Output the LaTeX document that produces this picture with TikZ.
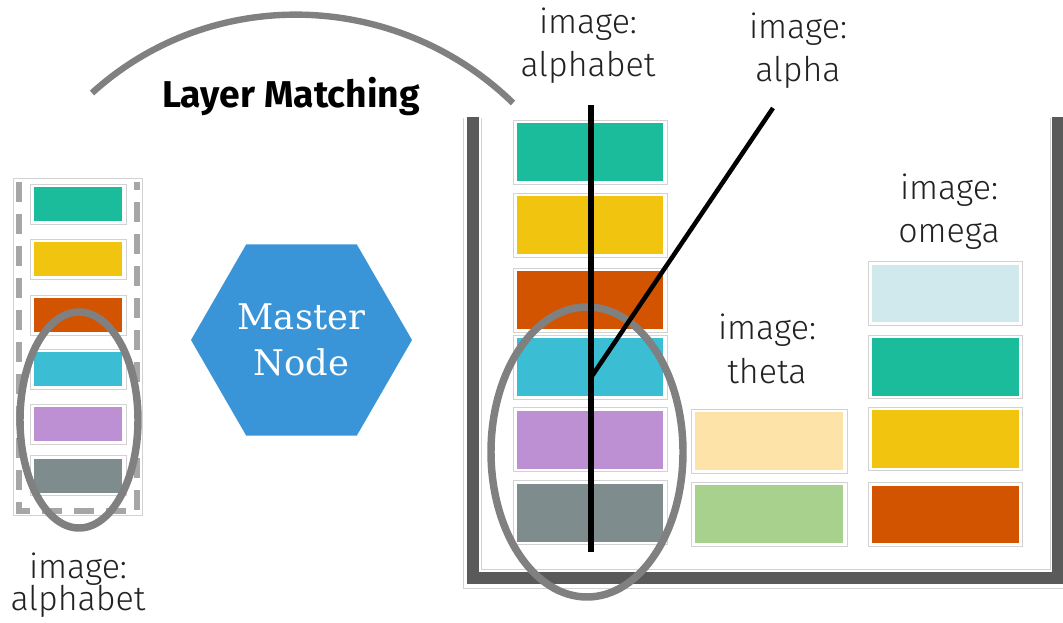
\documentclass[tikz,border=0pt]{standalone}
\usepackage{fontspec}
\setmainfont{Fira Sans}
\newfontfamily\lightsans{Fira Sans Light}
\newfontfamily\slab{DejaVu Serif}
\usetikzlibrary{shapes.geometric}

\definecolor{cteal}{HTML}{1ABC9C}
\definecolor{cyellow}{HTML}{F1C40F}
\definecolor{corange}{HTML}{D35400}
\definecolor{ccyan}{HTML}{3BBDD3}
\definecolor{cpurple}{HTML}{BD8FD3}
\definecolor{cslate}{HTML}{7F8C8D}
\definecolor{ccream}{HTML}{FDE3A7}
\definecolor{cgreen}{HTML}{A9D18E}
\definecolor{cice}{HTML}{D0E9ED}
\definecolor{hexblue}{HTML}{3A95D8}
\definecolor{ringgray}{HTML}{808080}
\definecolor{dashgray}{HTML}{A6A6A6}
\definecolor{wallgray}{HTML}{5A5A5A}
\definecolor{edgegray}{HTML}{D2D2D2}
\definecolor{inkgray}{HTML}{222222}

% let label lines sit closer than their natural height allows
\newcommand\tightlines{\lineskiplimit=-100pt\relax}

% a coloured layer card with a thin light frame around it
\newcommand\card[5]{%
  \node[cardedge, minimum width=#3+6pt, minimum height=#4+4.5pt] at #2 {};
  \node[cardfill, fill=#5, minimum width=#3, minimum height=#4] (#1) at #2 {};
}

\begin{document}
\begin{tikzpicture}[x=0.75pt, y=-0.75pt,
  cardedge/.style={draw=edgegray, line width=0.6pt, inner sep=0pt, outer sep=0pt},
  cardfill/.style={inner sep=0pt, outer sep=0pt},
  lbl/.style={align=center, text=inkgray,
    font={\lightsans\fontsize{25.5}{32.5}\selectfont\tightlines}},
  lbltight/.style={lbl, font={\lightsans\fontsize{25.5}{24}\selectfont\tightlines}},
  ring/.style={draw=ringgray, line width=5.6pt},
  pointer/.style={draw=black, line width=4.2pt},
]
\useasboundingbox (0,0) rectangle (1063,623);

% ---------- arc and title ----------
\draw[draw=ringgray, line width=4.8pt]
  (92,93) .. controls (212,-16) and (397,-10) .. (513,103);
\node[font={\bfseries\fontsize{28}{32}\selectfont}] (title) at (291,97) {Layer Matching};

% ---------- local node (left) ----------
\draw[edgegray, line width=0.6pt] (13,178) rectangle (142,515);
\draw[dashgray, line width=4.8pt, dash pattern=on 15pt off 9pt]
  (19,182) -- (19,511) -- (137,511) -- (137,182);
\card{l1}{(78,204.5)}{66pt}{25.5pt}{cteal}
\card{l2}{(78,259.5)}{66pt}{25.5pt}{cyellow}
\card{l3}{(78,315)}{66pt}{25.5pt}{corange}
\card{l4}{(78,369)}{66pt}{25.5pt}{ccyan}
\card{l5}{(78,424)}{66pt}{25.5pt}{cpurple}
\card{l6}{(78,475.5)}{66pt}{25.5pt}{cslate}
\draw[ring] (79,420) ellipse [x radius=59, y radius=108];
\node[lbltight] (leftlbl) at (78,585) {image:\\alphabet};

% ---------- master node ----------
\node[regular polygon, regular polygon sides=6, minimum size=165.75pt,
      fill=hexblue, inner sep=0pt, text=white, align=center,
      font={\slab\fontsize{26.5}{34.5}\selectfont}] (master) at (301.5,340) {Master\\Node};

% ---------- registry (right) ----------
\draw[edgegray, line width=0.6pt] (463,118) -- (463,588) -- (1063,588);
\draw[edgegray, line width=0.6pt] (481,118) -- (481,569) -- (1050,569) -- (1050,118);
\draw[wallgray, line width=9pt] (472.5,117) -- (472.5,577.5) -- (1057.5,577.5) -- (1057.5,117);

% image: alphabet
\card{a1}{(590,152.5)}{109.5pt}{43.5pt}{cteal}
\card{a2}{(590,225.5)}{109.5pt}{43.5pt}{cyellow}
\card{a3}{(590,300.5)}{109.5pt}{43.5pt}{corange}
\card{a4}{(590,367)}{109.5pt}{43.5pt}{ccyan}
\card{a5}{(590,439.5)}{109.5pt}{43.5pt}{cpurple}
\card{a6}{(590,512.5)}{109.5pt}{43.5pt}{cslate}

% image: theta
\card{t1}{(769,441)}{111pt}{43.5pt}{ccream}
\card{t2}{(769,514)}{111pt}{43.5pt}{cgreen}

% image: omega
\card{o1}{(945.5,293.5)}{110pt}{43pt}{cice}
\card{o2}{(945.5,367)}{110pt}{43pt}{cteal}
\card{o3}{(945.5,439)}{110pt}{43pt}{cyellow}
\card{o4}{(945.5,514.5)}{110pt}{43pt}{corange}

\draw[ring] (587,452) ellipse [x radius=96, y radius=145];

% labels and pointers
\node[lbl] (alphabetlbl) at (588,46) {image:\\alphabet};
\node[lbl] (alphalbl) at (798,50.5) {image:\\alpha};
\node[lbl] (omegalbl) at (949,212) {image:\\omega};
\node[lbl] (thetalbl) at (767,349) {image:\\theta};

\coordinate (vtop) at (591,105);
\coordinate (vbot) at (591,552);
\coordinate (dtop) at (773,108);
\coordinate (dbot) at (592,376);
\draw[pointer] (vtop) -- (vbot);
\draw[pointer, line width=3.4pt] (dtop) -- (dbot);
\end{tikzpicture}
\end{document}
